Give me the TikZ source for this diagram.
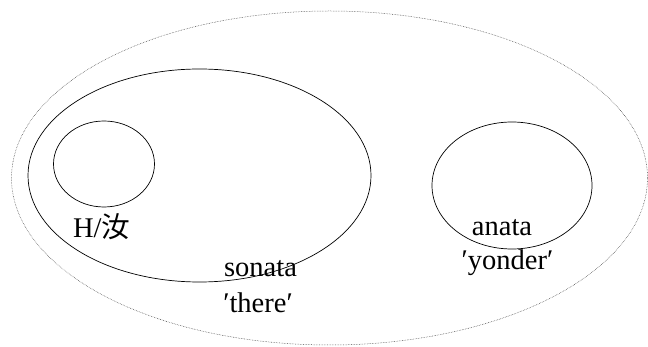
\documentclass[tikz,border=0pt]{standalone}
\usepackage{fontspec}
\setmainfont{Liberation Serif}
\newfontfamily\cjk{Noto Sans CJK SC}
\begin{document}
\begin{tikzpicture}[x=1pt,y=-1pt,
  solidring/.style={draw=black,line width=0.7pt},
  outerring/.style={draw=black!75,dash pattern=on 0.6pt off 1pt,line width=0.5pt},
  lbl/.style={anchor=base,inner sep=0pt,font=\fontsize{28.5}{32}\selectfont}]
\useasboundingbox (0,0) rectangle (648,347);
\draw[outerring] (329.5,178) ellipse [x radius=318, y radius=167];
\draw[solidring] (199.5,175.5) ellipse [x radius=171.5, y radius=106.5];
\draw[solidring] (104,164) ellipse [x radius=50.5, y radius=43];
\draw[solidring] (512,185.5) ellipse [x radius=80, y radius=63.5];
\node[lbl] (hn) at (101.5,238) {H/{\cjk 汝}};
\node[lbl] (sonata) at (260.5,276.5) {sonata};
\node[lbl] (there) at (258,313) {′there′};
\node[lbl] (anata) at (502,236) {anata};
\node[lbl] (yonder) at (507.5,270) {′yonder′};
\end{tikzpicture}
\end{document}
